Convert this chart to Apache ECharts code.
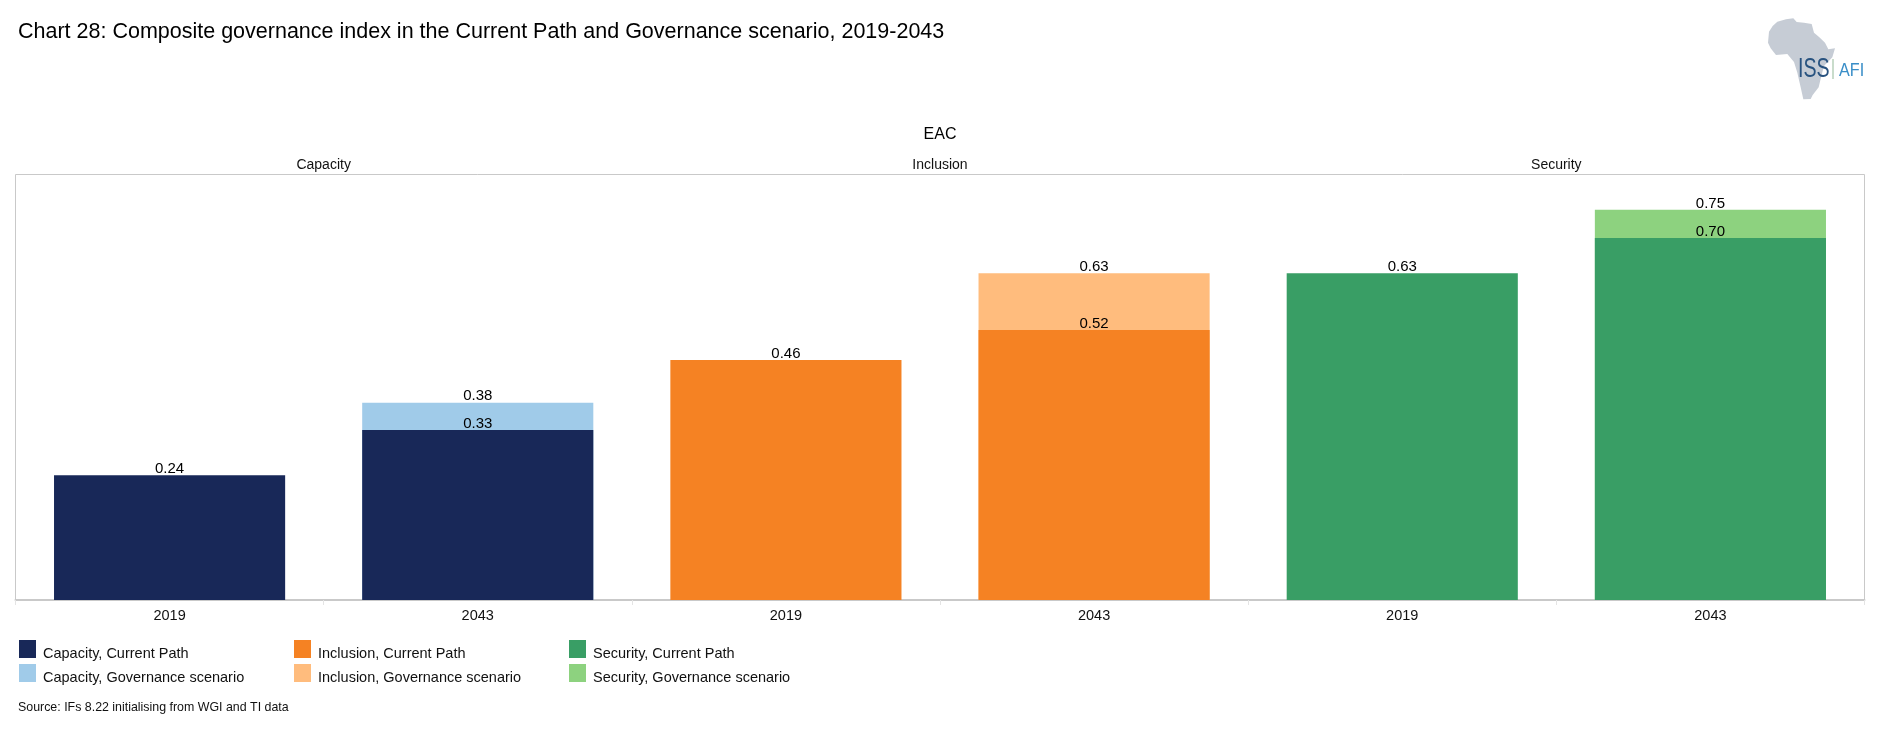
<!DOCTYPE html>
<html><head><meta charset="utf-8">
<style>html,body{margin:0;padding:0;background:#fff}#c{width:1880px;height:739px}</style>
<script src="https://cdn.jsdelivr.net/npm/echarts@6/dist/echarts.min.js"></script>
</head><body><div id="c"></div>
<script>
const years = ['2019','2043','2019','2043','2019','2043'];
const groups = ['Capacity','Inclusion','Security'];
const capacityCurrent = [0.24,0.327,null,null,null,null];
const capacityGov = [null,0.379,null,null,null,null];
const inclusionCurrent = [null,null,0.4615,0.519,null,null];
const inclusionGov = [null,null,null,0.628,null,null];
const securityCurrent = [null,null,null,null,0.628,0.696];
const securityGov = [null,null,null,null,null,0.75];
const FONT = '"Liberation Sans", sans-serif';
const mk = (name,data,color,z) => ({
  name, type:'bar', data, barWidth:'75%', barGap:'-100%', z,
  itemStyle:{color}, animation:false,
  label:{show:true,position:'top',distance:-1,color:'#000',fontSize:15,fontFamily:FONT,
    formatter:p=>p.value==null?'':p.value.toFixed(2)}
});
const legendAt = (left,items) => ({
  left, top:640, orient:'vertical', itemWidth:17, itemHeight:18, itemGap:3, padding:0,
  icon:'rect', selectedMode:false, data:items,
  formatter:n=>'{t|'+n+'}',
  textStyle:{color:'#111',fontSize:14.5,fontFamily:FONT,
    rich:{t:{color:'#111',fontSize:14.5,fontFamily:FONT,padding:[9,0,0,2]}}}
});
const africa = [[232,65],[258,58],[280,55],[290,66],[312,68],[335,72],[342,98],[358,112],[375,128],[385,148],[405,145],[397,172],[372,198],[364,228],[356,262],[338,285],[332,297],[310,298],[302,262],[292,218],[282,186],[262,162],[228,165],[212,145],[204,128],[207,95],[218,78]]
  .map(p=>[1700+p[0]/3,p[1]/3]);
const chart = echarts.init(document.getElementById('c'),null,{renderer:'canvas'});
chart.setOption({
  animation:false, backgroundColor:'#fff',
  title:[
    {text:'Chart 28: Composite governance index in the Current Path and Governance scenario, 2019-2043',left:18,top:21,padding:0,
      textStyle:{fontSize:21.5,fontWeight:'normal',color:'#000',fontFamily:FONT}},
    {text:'EAC',left:940,top:127,padding:0,textAlign:'center',
      textStyle:{fontSize:16,fontWeight:'normal',color:'#000',fontFamily:FONT}},
    {text:'Source: IFs 8.22 initialising from WGI and TI data',left:18,top:702,padding:0,
      textStyle:{fontSize:12.4,fontWeight:'normal',color:'#111',fontFamily:FONT}}
  ],
  legend:[
    legendAt(19,['Capacity, Current Path','Capacity, Governance scenario']),
    legendAt(294,['Inclusion, Current Path','Inclusion, Governance scenario']),
    legendAt(569,['Security, Current Path','Security, Governance scenario'])
  ],
  grid:{left:15.5,right:15.5,top:174.5,bottom:139,show:true,borderColor:'#c9c9c9',borderWidth:1,backgroundColor:'#fff'},
  xAxis:[
    {type:'category',data:years,position:'bottom',
      axisLine:{lineStyle:{color:'#c9c9c9',width:2}},
      axisTick:{show:true,length:5,alignWithLabel:false,lineStyle:{color:'#e4e4e4'}},
      axisLabel:{color:'#111',fontSize:14.5,fontFamily:FONT,margin:8,interval:0}},
    {type:'category',data:groups,position:'top',
      axisLine:{show:false},axisTick:{show:false},
      axisLabel:{color:'#111',fontSize:14,fontFamily:FONT,margin:2,interval:0}}
  ],
  yAxis:{type:'value',min:0,max:0.818,show:false,splitLine:{show:false}},
  series:[
    mk('Capacity, Governance scenario',capacityGov,'#a0cbe9',2),
    mk('Inclusion, Governance scenario',inclusionGov,'#ffbc7d',2),
    mk('Security, Governance scenario',securityGov,'#8dd27f',2),
    mk('Capacity, Current Path',capacityCurrent,'#182858',3),
    mk('Inclusion, Current Path',inclusionCurrent,'#f58223',3),
    mk('Security, Current Path',securityCurrent,'#399e65',3)
  ],
  graphic:[
    {type:'polygon',shape:{points:africa},style:{fill:'#c6ccd5'},silent:true},
    {type:'text',x:1798,y:55,scaleX:0.7,style:{text:'ISS',fill:'#28527f',font:'28px '+FONT},silent:true},
    {type:'rect',shape:{x:1832,y:59,width:2,height:20},style:{fill:'#c9dccb'},silent:true},
    {type:'text',x:1839,y:61,scaleX:0.85,style:{text:'AFI',fill:'#3a8ec8',font:'19px '+FONT},silent:true}
  ]
});
</script></body></html>
